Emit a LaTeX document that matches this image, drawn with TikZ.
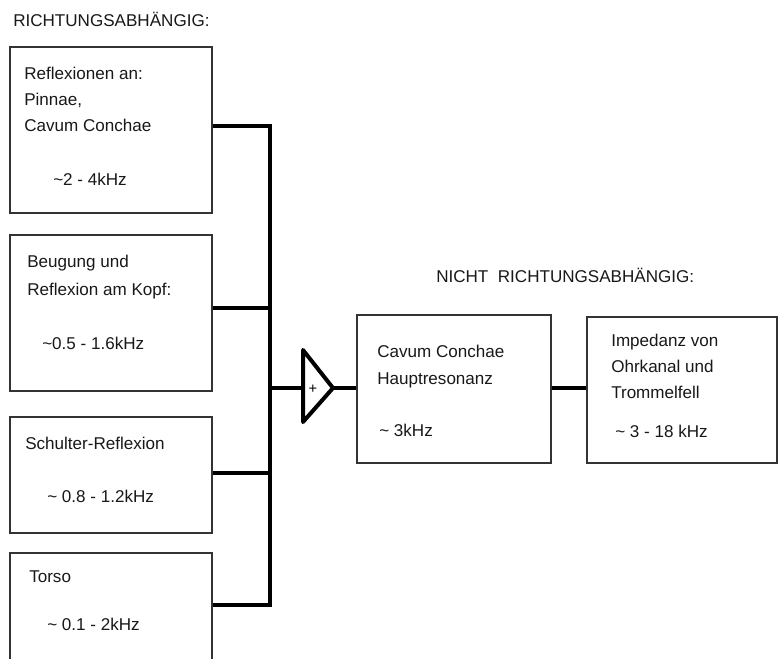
\documentclass[tikz,border=0pt]{standalone}
\usepackage{fontspec}
\setmainfont{Liberation Sans}
\begin{document}
\begin{tikzpicture}[x=0.75pt,y=-0.75pt,
  boxst/.style={draw=black!80,line width=1.1pt,minimum width=#1,inner sep=0pt},
  txt/.style={anchor=base west,inner sep=0pt,text=black!90,font=\fontsize{12.8}{15}\selectfont},
  wire/.style={line width=3pt,line join=miter}]
\useasboundingbox (0,0) rectangle (779,659);
\clip (0,0) rectangle (779,659);
\fill[white] (0,0) rectangle (779,659);
% boxes
\node[boxst=151.5pt,minimum height=124.5pt] (b1) at (111,130) {};
\node[boxst=151.5pt,minimum height=117pt] (b2) at (111,313) {};
\node[boxst=151.5pt,minimum height=87pt] (b3) at (111,475) {};
\node[boxst=151.5pt,minimum height=110pt] (b4) at (111,626.5) {};
\node[boxst=145.5pt,minimum height=111pt] (b5) at (454,389) {};
\node[boxst=142.5pt,minimum height=109.5pt] (b6) at (682,390) {};
% titles
\node[txt] (t1) at (13,27) {RICHTUNGSABHÄNGIG:};
\node[txt] (t2) at (436,283) {NICHT\ \ RICHTUNGSABHÄNGIG:};
% box texts
\node[txt] (a1) at (24,80) {Reflexionen an:};
\node[txt] (a2) at (24,106) {Pinnae,};
\node[txt] (a3) at (24,132) {Cavum Conchae};
\node[txt] (a4) at (53,186) {\textasciitilde2 - 4kHz};
\node[txt] (c1) at (27,268) {Beugung und};
\node[txt] (c2) at (27,296) {Reflexion am Kopf:};
\node[txt] (c3) at (42,350) {\textasciitilde0.5 - 1.6kHz};
\node[txt] (d1) at (25,450) {Schulter-Reflexion};
\node[txt] (d2) at (47,503) {\textasciitilde\ 0.8 - 1.2kHz};
\node[txt] (e1) at (29,582) {Torso};
\node[txt] (e2) at (47,630) {\textasciitilde\ 0.1 - 2kHz};
\node[txt] (f1) at (377,358) {Cavum Conchae};
\node[txt] (f2) at (377,385) {Hauptresonanz};
\node[txt] (f3) at (379,437) {\textasciitilde\ 3kHz};
\node[txt] (g1) at (611,347) {Impedanz von};
\node[txt] (g2) at (611,373) {Ohrkanal und};
\node[txt] (g3) at (611,399) {Trommelfell};
\node[txt] (g4) at (615,438) {\textasciitilde\ 3 - 18 kHz};
% junction coordinates
\coordinate (j1) at (270,126);
\coordinate (j2) at (270,308);
\coordinate (j3) at (270,473);
\coordinate (j4) at (270,605);
\coordinate (js) at (270,388);
\coordinate (tl) at (303,388);
\coordinate (ttop) at (303,350);
\coordinate (tbot) at (303,422);
\coordinate (tip) at (333,388);
% wires
\draw[wire] (b1.east |- j1) -- (j1) -- (j4) -- (b4.east |- j4);
\draw[wire] (b2.east |- j2) -- (j2);
\draw[wire] (b3.east |- j3) -- (j3);
\draw[wire] (js) -- (tl);
\draw[wire,line join=round] (ttop) -- (tip) -- (tbot) -- cycle;
\node[inner sep=0pt,font=\fontsize{11}{12}\selectfont] (plus) at (313,389) {+};
\draw[wire] (tip) -- (b5.west |- tip);
\draw[wire] (b5.east |- 0,388) -- (b6.west |- 0,388);
\end{tikzpicture}
\end{document}
